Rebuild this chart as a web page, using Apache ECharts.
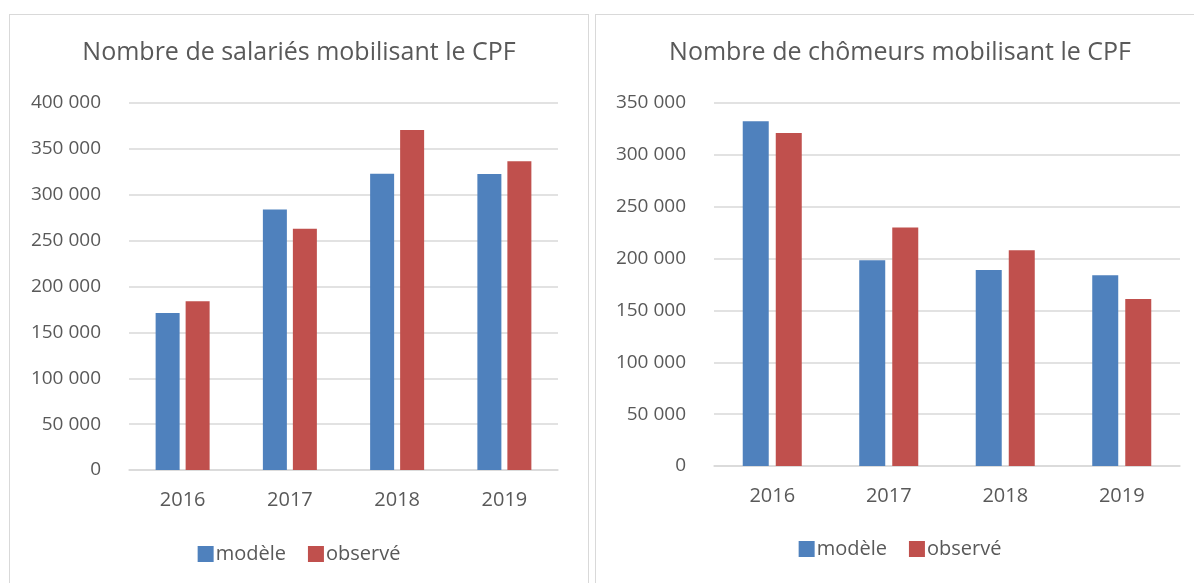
<!DOCTYPE html>
<html>
<head>
<meta charset="utf-8">
<script src="https://cdn.jsdelivr.net/npm/echarts@6/dist/echarts.min.js"></script>
<style>
  html, body { margin: 0; padding: 0; background: #fff; width: 1194px; height: 583px; overflow: hidden; }
  .panel {
    position: absolute;
    box-sizing: border-box;
    border: 1.5px solid #d9d9d9;
    background: #fff;
  }
  #left { left: 9px; top: 14px; width: 580px; height: 600px; }
  #right { left: 595px; top: 14px; width: 610px; height: 600px; }
</style>
</head>
<body>
<div id="left" class="panel"></div>
<div id="right" class="panel"></div>
<script>
const years = ['2016', '2017', '2018', '2019']
const legendNames = ['modèle', 'observé']

// salariés
const salariesModele = [171000, 284000, 323000, 322500]
const salariesObserve = [184000, 263000, 370500, 336500]

// chômeurs
const chomeursModele = [332500, 198500, 189000, 184000]
const chomeursObserve = [321000, 230000, 208000, 161000]

const colors = ['#4f81bd', '#c0504d']
const textColor = '#595959'
const fontFamily = 'Open Sans, Noto Sans, sans-serif'

function fmt (v) {
  return String(v).replace(/\B(?=(\d{3})+(?!\d))/g, ' ')
}

function buildOption (cfg) {
  return {
    animation: false,
    color: colors,
    textStyle: { fontFamily: fontFamily },
    title: {
      text: cfg.title,
      left: 'center',
      top: 20,
      textStyle: { color: textColor, fontSize: 25, fontWeight: 'normal', fontFamily: fontFamily }
    },
    legend: {
      data: legendNames,
      top: cfg.legendTop,
      left: 'center',
      itemWidth: 16,
      itemHeight: 16,
      itemGap: 22,
      icon: 'rect',
      textStyle: { color: textColor, fontSize: 20, padding: [0, 0, 0, -3] }
    },
    grid: {
      left: cfg.gridLeft,
      top: 88,
      width: cfg.gridWidth,
      height: cfg.gridHeight
    },
    xAxis: {
      type: 'category',
      data: years,
      axisLine: { show: true, lineStyle: { color: '#d9d9d9', width: 1.5 } },
      axisTick: { show: false },
      axisLabel: { color: textColor, fontSize: 20, margin: 20 }
    },
    yAxis: {
      type: 'value',
      min: 0,
      max: cfg.max,
      interval: 50000,
      axisLine: { show: false },
      axisTick: { show: false },
      splitLine: { lineStyle: { color: '#d9d9d9', width: 1.5 } },
      axisLabel: { color: textColor, fontSize: 19, margin: 28, formatter: fmt }
    },
    series: [
      {
        name: legendNames[0],
        type: 'bar',
        data: cfg.modele,
        barWidth: cfg.barWidth,
        barGap: cfg.barGap
      },
      {
        name: legendNames[1],
        type: 'bar',
        data: cfg.observe,
        barWidth: cfg.barWidth,
        barGap: cfg.barGap
      }
    ]
  }
}

const leftChart = echarts.init(document.getElementById('left'))
leftChart.setOption(buildOption({
  title: 'Nombre de salariés mobilisant le CPF',
  modele: salariesModele,
  observe: salariesObserve,
  max: 400000,
  gridLeft: 119,
  gridWidth: 429,
  gridHeight: 367,
  legendTop: 524,
  barWidth: 24,
  barGap: '25%'
}))

const rightChart = echarts.init(document.getElementById('right'))
rightChart.setOption(buildOption({
  title: 'Nombre de chômeurs mobilisant le CPF',
  modele: chomeursModele,
  observe: chomeursObserve,
  max: 350000,
  gridLeft: 118,
  gridWidth: 466,
  gridHeight: 363,
  legendTop: 519,
  barWidth: 26,
  barGap: '27%'
}))
</script>
</body>
</html>
